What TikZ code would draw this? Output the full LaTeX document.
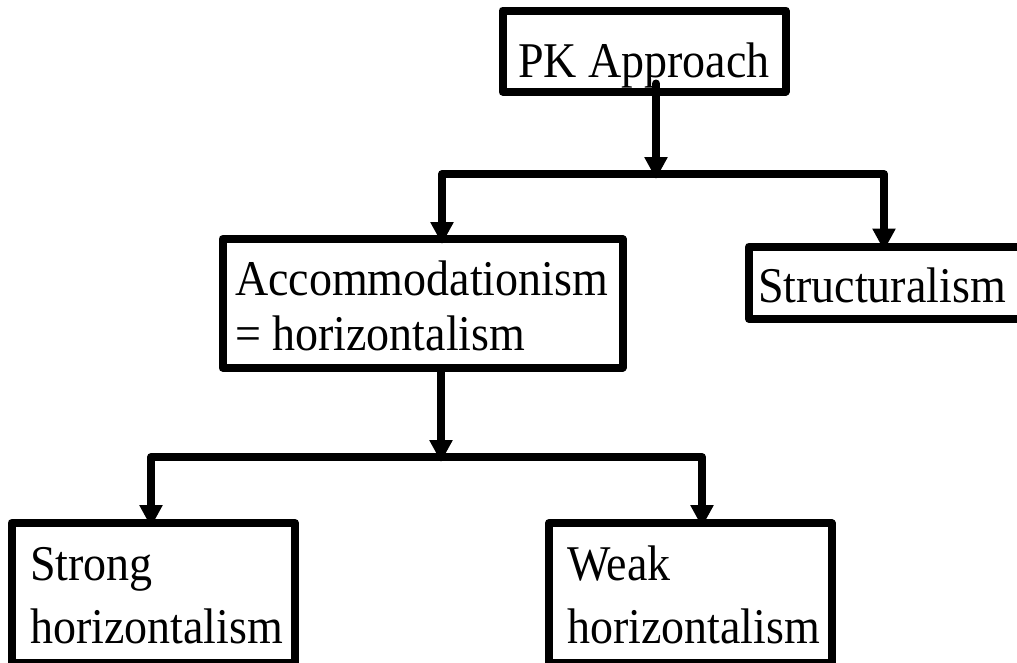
\documentclass[tikz,border=0pt]{standalone}
\usepackage{fontspec}
\setmainfont{Liberation Serif}[FakeStretch=0.92]
\usetikzlibrary{arrows.meta,calc}
\newcommand{\bxt}[3]{\makebox[#1][l]{\hspace*{#2}\vtop{#3}}}
\tikzset{
  box/.style={draw, line width=8pt, inner sep=0pt, outer sep=0pt, anchor=north west,
    line join=round, font=\fontsize{50pt}{55pt}\selectfont},
  link/.style={line width=8pt, line join=round},
  arr/.style={link, line cap=round, -{Triangle[width=22pt,length=22pt]}},
  arrs/.style={link, {Triangle[width=22pt,length=22pt]}-{Triangle[width=22pt,length=22pt]}},
}
\begin{document}
\begin{tikzpicture}[x=1pt,y=-1pt]
\useasboundingbox (0,0) rectangle (1017,662);
\clip (0,0) rectangle (1017,662);
\fill[white] (0,0) rectangle (1017,662);
% boxes
\node[box, text height=66.5pt, text depth=14.5pt] (pk) at (502.5,10.5)
  {\bxt{283pt}{15.5pt}{\hbox{PK Approach}}};
\node[box, text height=56pt, text depth=72.5pt] (acc) at (222.5,239)
  {\bxt{400pt}{12.5pt}{\baselineskip=55pt\hbox{Accommodationism}\hbox{= horizontalism}}};
\node[box, text height=55.5pt, text depth=17pt] (str) at (749,246.5)
  {\bxt{300pt}{9pt}{\hbox{Structuralism}}};
\node[box, text height=57pt, text depth=83pt] (strong) at (11.5,523)
  {\bxt{283.5pt}{18.5pt}{\baselineskip=63pt\hbox{Strong}\hbox{horizontalism}}};
\node[box, text height=57pt, text depth=83pt] (weak) at (549,523)
  {\bxt{282.5pt}{18pt}{\baselineskip=63pt\hbox{Weak}\hbox{horizontalism}}};
% junctions
\coordinate (j1) at (656,174);
\coordinate (b1l) at (442,174);
\coordinate (b1r) at (884,174);
\coordinate (j2) at (441,457);
\coordinate (b2l) at (151,457);
\coordinate (b2r) at (702,457);
% connectors
\draw[arr] ($(j1 |- pk.south)+(0,-8)$) -- ($(j1)+(0,5)$);
\draw[arrs] ($(b1l |- acc.north)+(0,5)$) -- (b1l) -- (b1r) -- ($(b1r |- str.north)+(0,4)$);
\draw[arr, line cap=butt] (j2 |- acc.south) -- ($(j2)+(0,5)$);
\draw[arrs] ($(b2l |- strong.north)+(0,4)$) -- (b2l) -- (b2r) -- ($(b2r |- weak.north)+(0,4)$);
\end{tikzpicture}
\end{document}
